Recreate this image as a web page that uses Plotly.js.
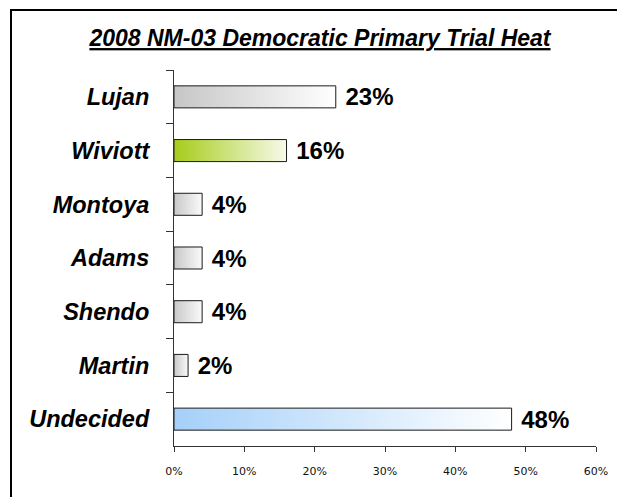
<!DOCTYPE html>
<html>
<head>
<meta charset="utf-8">
<script src="https://cdn.plot.ly/plotly-3.0.1.min.js"></script>
<style>
html,body{margin:0;padding:0;background:#fff;overflow:hidden;width:617px;height:497px;}
#wrap{position:relative;width:617px;height:497px;overflow:hidden;}
#frame{position:absolute;left:10px;top:9px;width:700px;height:600px;border-left:2px solid #000;border-top:2px solid #000;pointer-events:none;}
</style>
</head>
<body>
<div id="wrap">
<div id="chart" style="width:617px;height:497px;"></div>
<div id="frame"></div>
</div>
<script>
// Data
const candidates = ["Lujan", "Wiviott", "Montoya", "Adams", "Shendo", "Martin", "Undecided"];
const shares = [23, 16, 4, 4, 4, 2, 48];
const gradientStart = ["#c6c6c6", "#a6cc1a", "#c8c8c8", "#c8c8c8", "#c8c8c8", "#c8c8c8", "#a5d0f9"];
const gradientEnd = ["#ffffff", "#f7faea", "#fafafa", "#fafafa", "#fafafa", "#fafafa", "#ffffff"];
const xTickVals = [0, 10, 20, 30, 40, 50, 60];
const xTickText = ["0%", "10%", "20%", "30%", "40%", "50%", "60%"];

const W = 617, H = 497;
const L = 174, R = 21, T = 70, B = 51;

const trace = {
  type: "bar",
  orientation: "h",
  y: candidates,
  x: shares,
  width: 0.41,
  marker: { color: gradientStart, line: { color: "#1a1a1a", width: 1 } },
  text: shares.map(v => "\u00a0" + v + "%"),
  textposition: "outside",
  constraintext: "none",
  textfont: { family: "Liberation Sans, Arial, sans-serif", size: 24, color: "#000", weight: "bold" },
  cliponaxis: false,
  hoverinfo: "none"
};

const layout = {
  width: W, height: H,
  margin: { l: L, r: R, t: T, b: B },
  paper_bgcolor: "#fff",
  plot_bgcolor: "#fff",
  showlegend: false,
  title: {
    text: "2008 NM-03 Democratic Primary Trial Heat",
    font: { family: "Liberation Sans, Arial, sans-serif", size: 23, color: "#000", weight: "bold", style: "italic", lineposition: "under" },
    x: 320 / W, xref: "container", xanchor: "center",
    y: 1 - 38 / H, yref: "container", yanchor: "middle"
  },
  xaxis: {
    range: [0, 60],
    tickvals: xTickVals,
    ticktext: xTickText,
    showgrid: false,
    zeroline: false,
    showline: true,
    linecolor: "#333",
    linewidth: 1,
    ticks: "outside",
    ticklen: 5,
    tickcolor: "#333",
    ticklabelstandoff: 10,
    tickfont: { family: "DejaVu Sans, Verdana, sans-serif", size: 11, color: "#111" },
    fixedrange: true
  },
  yaxis: {
    type: "category",
    autorange: "reversed",
    showgrid: false,
    zeroline: false,
    showline: true,
    linecolor: "#333",
    linewidth: 1,
    ticks: "outside",
    tickson: "boundaries",
    ticklen: 7,
    tickcolor: "#333",
    ticklabelstandoff: 19,
    tickfont: { family: "Liberation Sans, Arial, sans-serif", size: 23.5, color: "#000", weight: "bold", style: "italic" },
    fixedrange: true
  }
};

Plotly.newPlot("chart", [trace], layout, { staticPlot: true, displayModeBar: false }).then(gd => {
  const svg = gd.querySelector("svg.main-svg");
  const ns = "http://www.w3.org/2000/svg";
  let defs = svg.querySelector("defs");
  if (!defs) { defs = document.createElementNS(ns, "defs"); svg.insertBefore(defs, svg.firstChild); }
  const paths = gd.querySelectorAll(".bars .point path");
  paths.forEach((p, i) => {
    const g = document.createElementNS(ns, "linearGradient");
    g.setAttribute("id", "barGrad" + i);
    g.setAttribute("x1", "0"); g.setAttribute("y1", "0");
    g.setAttribute("x2", "1"); g.setAttribute("y2", "0");
    const s1 = document.createElementNS(ns, "stop");
    s1.setAttribute("offset", "0"); s1.setAttribute("stop-color", gradientStart[i]);
    const s2 = document.createElementNS(ns, "stop");
    s2.setAttribute("offset", "1"); s2.setAttribute("stop-color", gradientEnd[i]);
    g.appendChild(s1); g.appendChild(s2);
    defs.appendChild(g);
    p.style.fill = "url(#barGrad" + i + ")";
  });
});
</script>
</body>
</html>
